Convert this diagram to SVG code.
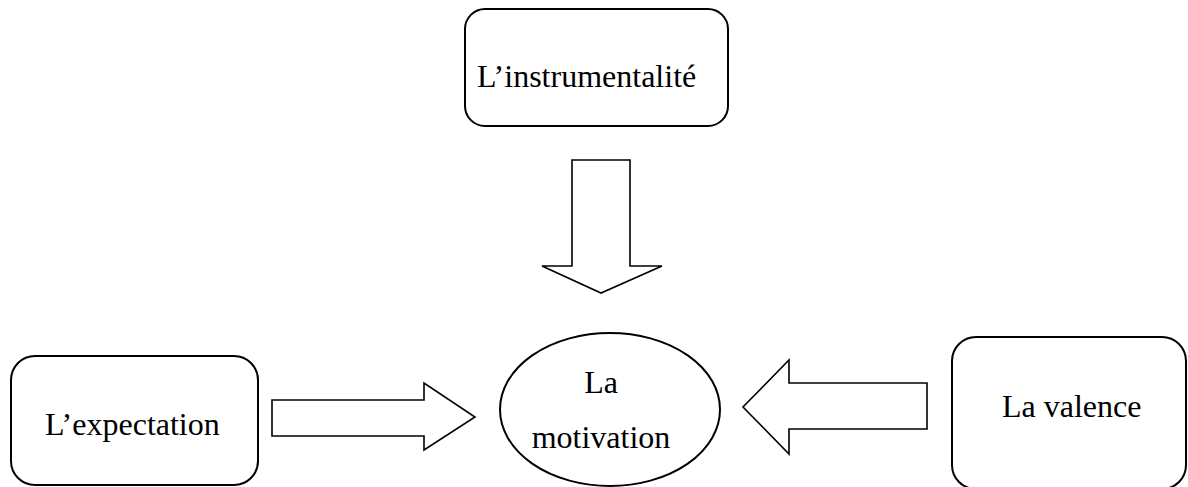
<svg xmlns="http://www.w3.org/2000/svg" width="1188" height="487" viewBox="0 0 1188 487">
  <style>
    .box { fill: #ffffff; stroke: #000000; stroke-width: 2; }
    .arrow { fill: #ffffff; stroke: #000000; stroke-width: 1.6; stroke-linejoin: miter; }
    .label { font-family: "Liberation Serif", "Times New Roman", serif; font-size: 32px; fill: #000000; }
  </style>
  <rect width="1188" height="487" fill="#ffffff"/>

  <g id="instrumentalite">
    <rect class="box" x="465" y="9" width="263" height="117" rx="20" ry="20"/>
    <text class="label" x="477" y="87">L’instrumentalité</text>
  </g>

  <g id="expectation">
    <rect class="box" x="11" y="356" width="247" height="129" rx="24" ry="24"/>
    <text class="label" x="45" y="435">L’expectation</text>
  </g>

  <g id="motivation">
    <ellipse class="box" cx="610" cy="409.5" rx="110" ry="76.5"/>
    <text class="label" x="601" y="393" text-anchor="middle">La</text>
    <text class="label" x="601" y="448" text-anchor="middle">motivation</text>
  </g>

  <g id="valence">
    <rect class="box" x="952" y="337" width="234" height="152" rx="24" ry="24"/>
    <text class="label" x="1002" y="417">La valence</text>
  </g>

  <g id="connectors">
    <!-- block arrow: instrumentalité to motivation -->
    <polygon class="arrow" points="572,160 630,160 630,266 662,266 601,293 542,266 572,266"/>
    <!-- block arrow: expectation to motivation -->
    <polygon class="arrow" points="272,400 424,400 424,383 475,417 424,450 424,436 272,436"/>
    <!-- block arrow: valence to motivation -->
    <polygon class="arrow" points="927,383 789,383 789,360 743,407 789,454 789,429 927,429"/>
  </g>
</svg>
